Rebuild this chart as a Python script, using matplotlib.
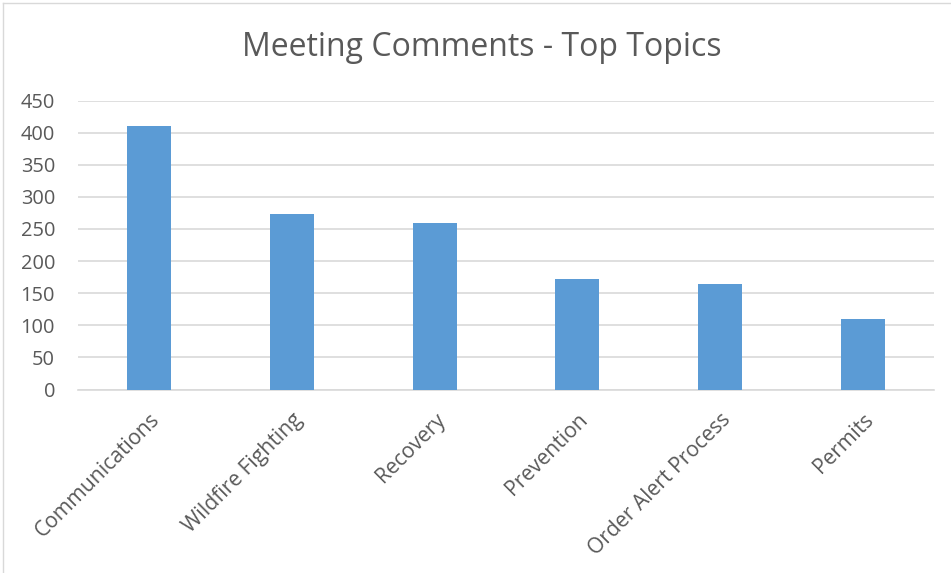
import matplotlib
matplotlib.use("Agg")
import matplotlib.pyplot as plt
from matplotlib.lines import Line2D

categories = ["Communications", "Wildfire Fighting", "Recovery", "Prevention",
              "Order Alert Process", "Permits"]
values = [411, 274, 259, 172, 165, 110]
yticks = [0, 50, 100, 150, 200, 250, 300, 350, 400, 450]

plt.rcParams['font.family'] = ['Open Sans', 'DejaVu Sans']
W, H = 951, 573
fig = plt.figure(figsize=(W / 100, H / 100), dpi=100)
ax = fig.add_axes([78 / W, 1 - 389.5 / H, 856 / W, 289 / H])

x = range(len(categories))
ax.bar(x, values, width=0.31, color="#5B9BD5", zorder=3)
ax.set_xlim(-0.5, len(categories) - 0.5)
ax.set_ylim(0, 450)
ax.set_yticks(yticks)
ax.set_yticklabels([str(t) for t in yticks], fontsize=14.4, color="#595959")
ax.set_xticks(list(x))
ax.set_xticklabels(categories, rotation=45, ha="right", rotation_mode="anchor",
                   fontsize=15.2, color="#595959")
ax.tick_params(axis="both", length=0)
ax.tick_params(axis="y", pad=16.5)
ax.tick_params(axis="x", pad=14)
ax.grid(axis="y", color="#D9D9D9", linewidth=1.2, zorder=0)
for s in ["top", "right", "left"]:
    ax.spines[s].set_visible(False)
ax.spines["bottom"].set_color("#D9D9D9")
ax.spines["bottom"].set_linewidth(1.2)

fig.text(482 / W, 1 - 47 / H, "Meeting Comments - Top Topics", ha="center", va="center",
         fontsize=23, color="#595959")

# chart frame
fig.add_artist(Line2D([3 / W, 3 / W], [0, 1 - 3 / H], transform=fig.transFigure,
                      color="#D9D9D9", lw=1))
fig.add_artist(Line2D([3 / W, 1], [1 - 3 / H, 1 - 3 / H], transform=fig.transFigure,
                      color="#D9D9D9", lw=1))

fig.savefig("out.png", dpi=100, facecolor="white")
